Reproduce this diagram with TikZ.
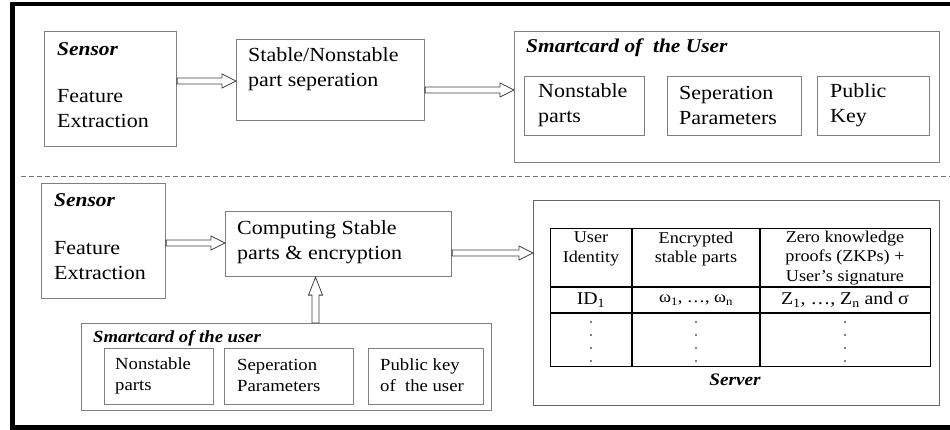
\documentclass[tikz,border=0pt]{standalone}
\usepackage{fontspec}
\setmainfont{Liberation Serif}[FakeStretch=1.1]
\usetikzlibrary{calc}

% font sizes used in the figure
\newcommand\bodyL{\fontsize{20}{25}\selectfont}
\newcommand\bodyM{\fontsize{17}{21}\selectfont}
\newcommand\bodyT{\fontsize{16.5}{19.5}\selectfont}
\newcommand\headL{\fontsize{19.5}{22}\selectfont\bfseries\itshape}
\newcommand\headM{\fontsize{17}{19}\selectfont\bfseries\itshape}

\tikzset{
  box/.style={draw=black!50, line width=1.1pt, anchor=north west, inner sep=0pt},
  lbl/.style={inner sep=0pt, anchor=west, align=left},
  cell/.style={inner sep=0pt, align=center},
  harrow/.style={draw=black!75, fill=white, line width=0.8pt,
    to path={let \p1=(\tikztostart), \p2=(\tikztotarget) in
      (\x1,\y1+3pt) -- (\x2-14pt,\y1+3pt) -- (\x2-14pt,\y1+7pt) -- (\x2,\y1)
      -- (\x2-14pt,\y1-7pt) -- (\x2-14pt,\y1-3pt) -- (\x1,\y1-3pt) -- cycle}},
  varrow/.style={draw=black!75, fill=white, line width=0.8pt,
    to path={let \p1=(\tikztostart), \p2=(\tikztotarget) in
      (\x1-3.5pt,\y1) -- (\x1-3.5pt,\y2-18pt) -- (\x1-7pt,\y2-18pt) -- (\x1,\y2)
      -- (\x1+7pt,\y2-18pt) -- (\x1+3.5pt,\y2-18pt) -- (\x1+3.5pt,\y1) -- cycle}},
  tline/.style={line width=1.3pt, draw=black}
}

\begin{document}
\begin{tikzpicture}[x=1pt,y=-1pt]
\useasboundingbox (0,0) rectangle (950,429);

% outer frame (open to the right)
\draw[line width=4.5pt] (950,4) -- (12.5,4) -- (12.5,427.5) -- (950,427.5);

% ---------------- enrolment ----------------
\node[box, minimum width=132pt, minimum height=115pt] (sensA) at (44,31) {};
\node[lbl, font=\headL] (sensAt) at (57,49) {Sensor};
\node[lbl, font=\bodyL] (sensAx) at (57,108.5) {Feature\\Extraction};

\node[box, minimum width=188pt, minimum height=81pt] (sepA) at (236,39) {};
\node[lbl, font=\bodyL] (sepAx) at (248,69) {Stable/Nonstable\\part seperation};

\node[box, minimum width=425pt, minimum height=131pt] (cardA) at (514,31) {};
\node[lbl, font=\headL] (cardAt) at (526,48) {Smartcard of~~the User};
\node[box, minimum width=120pt, minimum height=59pt] (npA) at (524,76) {};
\node[lbl, font=\bodyL] (npAx) at (538,105.5) {Nonstable\\parts};
\node[box, minimum width=134pt, minimum height=59pt] (spA) at (667,76) {};
\node[lbl, font=\bodyL] (spAx) at (679,105.5) {Seperation\\Parameters};
\node[box, minimum width=112pt, minimum height=59pt] (pkA) at (817,76) {};
\node[lbl, font=\bodyL] (pkAx) at (830,105.5) {Public\\Key};

\coordinate (ya1) at (0,81);
\coordinate (ya2) at (0,90);
\path[harrow] (sensA.east |- ya1) to (sepA.west |- ya1);
\path[harrow] (sepA.east |- ya2) to (cardA.west |- ya2);

% separator
\coordinate (dl) at (21,176);
\coordinate (dr) at (950,176);
\draw[black!55, line width=1pt, dash pattern=on 5pt off 3pt] (dl) -- (dr);

% ---------------- verification ----------------
\node[box, minimum width=124pt, minimum height=115pt] (sensB) at (41,183) {};
\node[lbl, font=\headL] (sensBt) at (54,200) {Sensor};
\node[lbl, font=\bodyL] (sensBx) at (54,260.5) {Feature\\Extraction};

\node[box, minimum width=226pt, minimum height=65pt] (compB) at (225,211) {};
\node[lbl, font=\bodyL] (compBx) at (237,242) {Computing Stable\\parts \& encryption};

\node[box, minimum width=410pt, minimum height=87pt] (cardB) at (81,323) {};
\node[lbl, font=\headM] (cardBt) at (93,338) {Smartcard of the user};
\node[box, minimum width=109pt, minimum height=56pt] (npB) at (104,348) {};
\node[lbl, font=\bodyM] (npBx) at (115,375.5) {Nonstable\\parts};
\node[box, minimum width=129pt, minimum height=56pt] (spB) at (224,348) {};
\node[lbl, font=\bodyM] (spBx) at (237,375.5) {Seperation\\Parameters};
\node[box, minimum width=115pt, minimum height=56pt] (pkB) at (368,348) {};
\node[lbl, font=\bodyM] (pkBx) at (380,375.5) {Public key\\of~~the user};

\node[box, draw=black!60, minimum width=406pt, minimum height=205pt] (server) at (533,200) {};

\coordinate (yb1) at (0,243);
\coordinate (yb2) at (0,253);
\coordinate (xb3) at (315.5,0);
\path[harrow] (sensB.east |- yb1) to (compB.west |- yb1);
\path[harrow] (compB.east |- yb2) to (server.west |- yb2);
\path[varrow] (xb3 |- cardB.north) to (xb3 |- compB.south);

% table stored on the server
\node[inner sep=0pt, anchor=north west, minimum width=380pt, minimum height=138pt, tline] (tbl) at (550,228) {};
\coordinate (c1) at (632,0);
\coordinate (c2) at (760,0);
\coordinate (r1) at (0,287);
\coordinate (r2) at (0,313);
\draw[tline] (c1 |- tbl.north) -- (c1 |- tbl.south);
\draw[tline] (c2 |- tbl.north) -- (c2 |- tbl.south);
\draw[tline] (tbl.west |- r1) -- (tbl.east |- r1);
\draw[tline] (tbl.west |- r2) -- (tbl.east |- r2);

\node[cell, font=\bodyT] (h1) at (591,249) {User\\Identity};
\node[cell, font=\bodyT] (h2) at (696,249) {Encrypted\\stable parts};
\node[cell, font=\bodyT] (h3) at (845,258) {Zero knowledge\\proofs (ZKPs) +\\User’s signature};

\node[cell, font=\fontsize{18}{21}\selectfont] (v1) at (591,300) {ID\textsubscript{1}};
\node[cell, font=\bodyT] (v2) at (696,300) {ω\textsubscript{1}, …, ω\textsubscript{n}};
\node[cell, font=\fontsize{18}{21}\selectfont] (v3) at (845,300) {Z\textsubscript{1}, …, Z\textsubscript{n} and σ};

\foreach \cx in {591,696,845}
  \foreach \cy in {322,335,348,361}
    \fill (\cx,\cy) circle (0.9pt);

\node[cell, font=\fontsize{17.5}{20}\selectfont\bfseries\itshape] (srvt) at (735,380) {Server};
\end{tikzpicture}
\end{document}
